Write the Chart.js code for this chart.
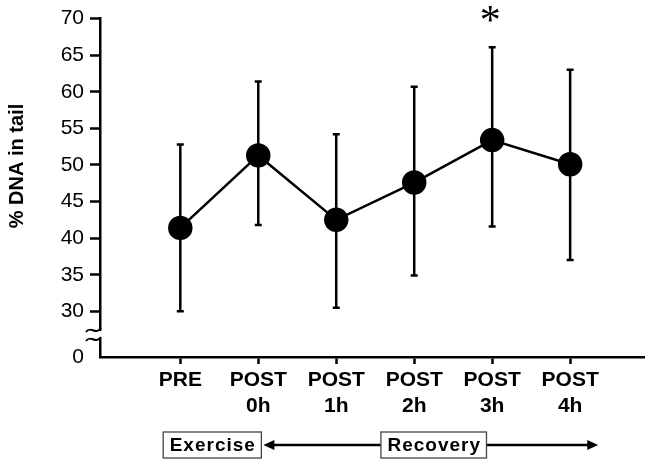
<!DOCTYPE html>
<html><head><meta charset="utf-8">
<script src="https://cdn.jsdelivr.net/npm/chart.js@4"></script>
<style>html,body{margin:0;padding:0;background:#fff;overflow:hidden}#wrap{width:645px;height:463px;position:relative}canvas{display:block}</style>
</head><body><div id="wrap"><canvas id="c" width="645" height="463" style="width:645px;height:463px"></canvas></div>
<script>
const categories = [["PRE"], ["POST", "0h"], ["POST", "1h"], ["POST", "2h"], ["POST", "3h"], ["POST", "4h"]];
const meanDNA = [41.4, 51.3, 42.5, 47.6, 53.4, 50.1];
const errUpper = [52.8, 61.4, 54.2, 60.7, 66.1, 63.0];
const errLower = [30.0, 41.8, 30.5, 34.9, 41.6, 37.0];
const significance = ["", "", "", "", "*", ""];
const yTickValues = [30, 35, 40, 45, 50, 55, 60, 65, 70];
const yBreakLabel = "0";
const yTitle = "% DNA in tail";
const phaseLabels = ["Exercise", "Recovery"];

const FONT = "'Liberation Sans', Arial, Helvetica, sans-serif";

const extras = {
  id: 'extras',
  beforeDatasetsDraw(chart) {
    const ctx = chart.ctx, xs = chart.scales.x, ys = chart.scales.y;
    ctx.save();
    ctx.strokeStyle = '#000';
    ctx.lineWidth = 2.5;
    categories.forEach((c, i) => {
      const px = xs.getPixelForValue(i);
      const t = ys.getPixelForValue(errUpper[i]);
      const b = ys.getPixelForValue(errLower[i]);
      ctx.beginPath();
      ctx.moveTo(px, t); ctx.lineTo(px, b);
      ctx.moveTo(px - 3.5, t); ctx.lineTo(px + 3.5, t);
      ctx.moveTo(px - 3.5, b); ctx.lineTo(px + 3.5, b);
      ctx.stroke();
    });
    ctx.restore();
  },
  afterDraw(chart) {
    const ctx = chart.ctx, xs = chart.scales.x, ys = chart.scales.y, ca = chart.chartArea;
    ctx.save();
    // significance marks
    ctx.fillStyle = '#000';
    ctx.font = `42px 'Liberation Serif', 'Times New Roman', serif`;
    ctx.textAlign = 'center';
    ctx.textBaseline = 'alphabetic';
    significance.forEach((s, i) => {
      if (!s) return;
      const px = xs.getPixelForValue(i);
      const t = ys.getPixelForValue(errUpper[i]);
      ctx.fillText(s, px - 2, t - 13);
    });
    // axis break
    const bx = ca.left;
    const y1 = ca.bottom - 27, y2 = ca.bottom - 18;
    ctx.fillStyle = '#fff';
    ctx.fillRect(bx - 3, y1 + 1, 6, y2 - y1 - 2);
    ctx.strokeStyle = '#000';
    ctx.lineWidth = 2;
    [y1, y2].forEach(yy => {
      ctx.beginPath();
      ctx.moveTo(bx - 14, yy + 2);
      ctx.bezierCurveTo(bx - 9, yy - 5, bx - 5, yy + 6, bx + 1, yy - 2);
      ctx.stroke();
    });
    // y title
    ctx.fillStyle = '#000';
    ctx.font = `bold 20px ${FONT}`;
    ctx.translate(17, 166);
    ctx.rotate(-Math.PI / 2);
    ctx.textAlign = 'center';
    ctx.textBaseline = 'middle';
    ctx.fillText(yTitle, 0, 0);
    ctx.restore();

    // phase annotation
    ctx.save();
    const ay = 445;
    ctx.font = `bold 19px ${FONT}`;
    ctx.letterSpacing = '1px';
    ctx.textBaseline = 'middle';
    ctx.textAlign = 'center';
    const boxes = [
      {text: phaseLabels[0], cx: xs.getPixelForValue(0.41)},
      {text: phaseLabels[1], cx: xs.getPixelForValue(3.25)}
    ];
    const rects = boxes.map(b => {
      const w = ctx.measureText(b.text).width + 12;
      return {x: b.cx - w / 2, w, text: b.text, cx: b.cx};
    });
    ctx.strokeStyle = '#000';
    ctx.fillStyle = '#000';
    ctx.lineWidth = 2.5;
    const leftTip = rects[0].x + rects[0].w + 2;
    const rightTip = xs.getPixelForValue(5.36);
    ctx.beginPath();
    ctx.moveTo(leftTip + 8, ay); ctx.lineTo(rects[1].x, ay);
    ctx.moveTo(rects[1].x + rects[1].w, ay); ctx.lineTo(rightTip - 8, ay);
    ctx.stroke();
    ctx.beginPath();
    ctx.moveTo(leftTip, ay); ctx.lineTo(leftTip + 11, ay - 5); ctx.lineTo(leftTip + 11, ay + 5); ctx.closePath();
    ctx.fill();
    ctx.beginPath();
    ctx.moveTo(rightTip, ay); ctx.lineTo(rightTip - 11, ay - 5); ctx.lineTo(rightTip - 11, ay + 5); ctx.closePath();
    ctx.fill();
    rects.forEach(r => {
      ctx.fillStyle = '#fff';
      ctx.fillRect(r.x, ay - 13, r.w, 26);
      ctx.strokeStyle = '#444';
      ctx.lineWidth = 1.3;
      ctx.strokeRect(r.x, ay - 13, r.w, 26);
      ctx.fillStyle = '#000';
      ctx.fillText(r.text, r.cx + 0.5, ay + 1);
    });
    ctx.restore();
  }
};

new Chart(document.getElementById('c'), {
  type: 'line',
  data: {
    datasets: [{
      data: meanDNA.map((v, i) => ({x: i, y: v})),
      borderColor: '#000',
      borderWidth: 2.5,
      backgroundColor: '#000',
      pointBackgroundColor: '#000',
      pointBorderColor: '#000',
      pointRadius: 11,
      pointHoverRadius: 11,
      tension: 0
    }]
  },
  options: {
    responsive: false,
    maintainAspectRatio: false,
    devicePixelRatio: 1,
    animation: false,
    events: [],
    layout: {autoPadding: false, padding: {top: 16, right: 0, left: 0, bottom: 0}},
    plugins: {legend: {display: false}, tooltip: {enabled: false}},
    scales: {
      x: {
        type: 'linear',
        min: -1.03,
        max: 5.96,
        afterBuildTicks(scale) { scale.ticks = categories.map((c, i) => ({value: i})); },
        afterFit(scale) { scale.height = 106; },
        border: {display: true, color: '#000', width: 2.5},
        grid: {drawOnChartArea: false, drawTicks: true, tickLength: 7, tickWidth: 2.5, tickColor: '#000'},
        ticks: {
          autoSkip: false, maxRotation: 0, padding: 4,
          color: '#000',
          font: {family: FONT, size: 21, weight: 'bold', lineHeight: 1.2},
          callback: (v) => categories[v]
        }
      },
      y: {
        type: 'linear',
        min: 23.76,
        max: 70,
        afterBuildTicks(scale) {
          scale.ticks = [{value: scale.min}].concat(yTickValues.map(v => ({value: v})));
        },
        afterFit(scale) { scale.width = 100; },
        border: {display: true, color: '#000', width: 2.5},
        grid: {
          drawOnChartArea: false, drawTicks: true, tickLength: 10, tickWidth: 2.5,
          tickColor: (c) => c.index === 0 ? 'rgba(0,0,0,0)' : '#000'
        },
        ticks: {
          padding: 6, color: '#000',
          font: {family: FONT, size: 21},
          callback: function (v, i) { return i === 0 ? yBreakLabel : String(v); }
        }
      }
    }
  },
  plugins: [extras]
});
</script>
</body></html>
